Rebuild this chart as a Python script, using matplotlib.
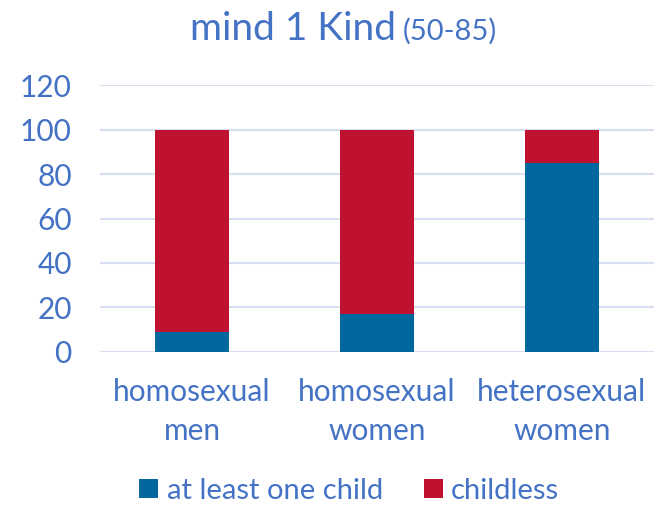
import matplotlib.pyplot as plt
import numpy as np

plt.rcParams['font.family'] = ['Lato', 'DejaVu Sans']

categories = ['homosexual\nmen', 'homosexual\nwomen', 'heterosexual\nwomen']
with_child = [9, 17, 85]
childless = [91, 83, 15]
yticks = [0, 20, 40, 60, 80, 100, 120]

txt = '#4472C4'
blue = '#00689E'
red = '#BE1230'

fig = plt.figure(figsize=(6.55, 5.07), dpi=100)
ax = fig.add_axes([0.152, 0.306, 0.847, 0.526])

x = np.arange(len(categories))
ax.bar(x, with_child, width=0.4, color=blue, label='at least one child', zorder=3)
ax.bar(x, childless, width=0.4, bottom=with_child, color=red, label='childless', zorder=3)

ax.set_xlim(-0.5, 2.5)
ax.set_ylim(0, 120)
ax.set_yticks(yticks)
ax.set_xticks(x)
ax.set_xticklabels(categories, fontsize=21.5, color=txt, linespacing=1.45)
ax.tick_params(axis='y', labelsize=21.5, labelcolor=txt, length=0, pad=20)
ax.tick_params(axis='x', length=0, pad=19)
ax.grid(axis='y', color='#D9DFF2', linewidth=1.5, zorder=0)
for s in ax.spines.values():
    s.set_visible(False)

fig.text(190 / 655, 0.921, 'mind 1 Kind', fontsize=28, color=txt, ha='left', va='baseline')
fig.text(403 / 655, 0.921, '(50-85)', fontsize=21, color=txt, ha='left', va='baseline')

fig.legend(loc='center', bbox_to_anchor=(0.533, 0.032), ncol=2, frameon=False,
           fontsize=21, labelcolor=txt, handlelength=0.65, handleheight=0.65,
           handletextpad=0.28, columnspacing=1.4, borderpad=0.1)

fig.savefig('out.png', dpi=100)
